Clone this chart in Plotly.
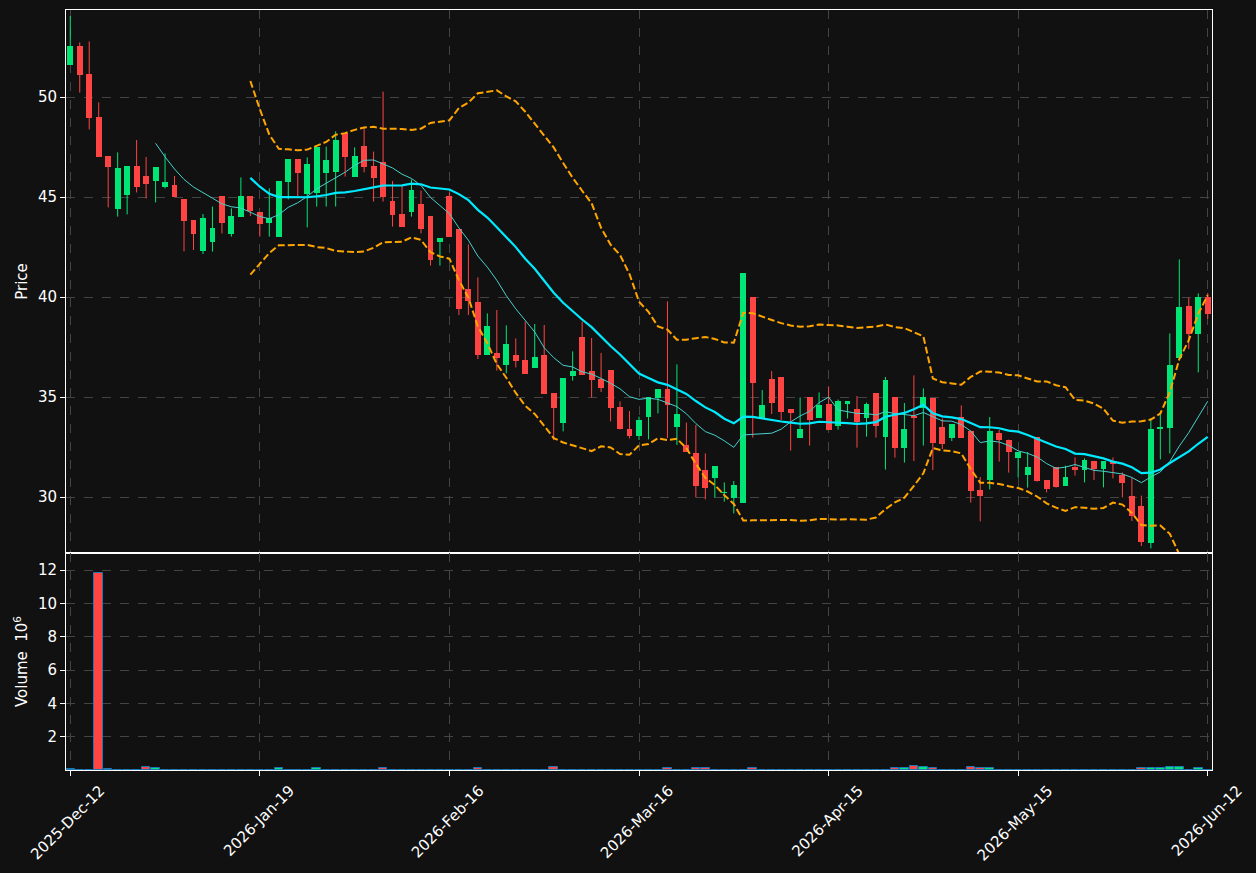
import plotly.graph_objects as go
import pandas as pd

# ---- data ----
tick_positions = [0, 20, 40, 60, 80, 100, 120]
tick_labels = ["2025-Dec-12", "2026-Jan-19", "2026-Feb-16", "2026-Mar-16",
               "2026-Apr-15", "2026-May-15", "2026-Jun-12"]

opens = [51.6, 52.55, 51.15, 49.0, 47.05, 44.42, 45.12, 46.55, 46.05, 45.82,
         45.52, 45.6, 44.9, 43.85, 42.32, 42.75, 45.05, 43.15, 44.02, 45.05,
         44.25, 43.72, 43.02, 45.77, 46.88, 45.13, 45.22, 46.22, 46.27, 48.2,
         46.02, 47.55, 46.55, 46.73, 44.8, 44.15, 44.27, 44.65, 44.05, 42.77,
         45.05, 43.4, 40.4, 39.77, 37.1, 37.2, 36.6, 37.1, 36.85, 36.47,
         37.1, 35.2, 33.72, 36.07, 38.0, 36.3, 35.9, 36.35, 34.5, 33.4,
         33.05, 34.02, 34.97, 35.4, 33.52, 32.6, 32.22, 31.35, 30.95, 30.2,
         29.95, 29.72, 40.0, 33.93, 35.9, 36.0, 34.4, 32.97, 35.0, 33.97,
         34.65, 33.57, 34.65, 34.4, 33.97, 35.2, 33.02, 35.0, 32.47, 34.02,
         34.43, 34.93, 33.48, 32.97, 33.98, 33.32, 30.35, 30.85, 33.22, 32.87,
         31.97, 31.1, 32.98, 30.85, 31.48, 30.57, 31.48, 31.35, 31.8, 31.4,
         31.72, 31.1, 30.05, 29.55, 27.72, 33.42, 33.47, 36.97, 39.55, 38.17,
         39.98]
highs = [54.05, 52.73, 52.78, 49.73, 47.05, 47.23, 46.55, 47.85, 47.0, 46.5,
         47.18, 46.05, 44.9, 43.85, 44.15, 44.52, 45.05, 44.43, 45.98, 45.05,
         44.25, 45.43, 45.8, 46.88, 46.88, 46.98, 47.5, 47.52, 48.28, 48.2,
         47.48, 48.47, 47.27, 50.27, 45.8, 45.55, 45.88, 45.32, 44.05, 42.93,
         45.23, 43.4, 42.63, 40.98, 39.18, 39.35, 38.58, 37.93, 38.77, 38.65,
         38.6, 35.2, 35.95, 37.28, 38.77, 37.95, 37.2, 36.35, 34.78, 34.3,
         34.02, 35.0, 35.4, 39.78, 36.63, 33.72, 33.6, 32.18, 31.55, 30.73,
         30.8, 41.2, 40.0, 35.35, 36.3, 36.0, 34.4, 34.98, 35.0, 35.23,
         35.53, 34.87, 34.8, 35.05, 34.72, 35.2, 36.0, 35.0, 34.7, 36.08,
         35.43, 34.93, 33.93, 33.63, 34.58, 33.32, 31.0, 34.0, 33.35, 32.87,
         32.25, 32.25, 32.98, 30.85, 31.48, 31.57, 31.98, 31.93, 31.8, 31.8,
         31.98, 31.23, 30.97, 30.07, 33.93, 34.23, 38.18, 41.88, 39.97, 40.18,
         40.2]
lows = [51.6, 50.22, 48.38, 47.0, 44.48, 44.02, 44.13, 45.23, 44.93, 44.73,
        45.43, 45.02, 42.28, 42.35, 42.15, 42.27, 43.18, 43.02, 44.02, 44.05,
        43.02, 43.02, 43.02, 44.88, 45.05, 43.48, 44.52, 44.52, 44.52, 46.02,
        46.02, 46.23, 44.77, 44.77, 43.52, 43.52, 44.02, 43.18, 41.57, 41.57,
        43.02, 39.1, 39.1, 36.9, 37.1, 36.32, 36.18, 36.48, 36.17, 36.47,
        35.17, 32.85, 33.28, 35.82, 36.1, 34.98, 35.25, 33.78, 33.38, 32.93,
        32.85, 32.88, 34.18, 32.95, 32.6, 32.27, 29.98, 29.88, 29.98, 29.77,
        29.18, 29.72, 32.97, 33.93, 34.15, 33.85, 32.32, 32.97, 32.57, 33.97,
        33.35, 33.37, 33.93, 32.47, 33.02, 32.97, 31.37, 31.97, 31.72, 31.8,
        32.57, 31.35, 32.4, 32.8, 32.97, 29.72, 28.78, 30.38, 31.77, 31.22,
        30.97, 30.47, 30.77, 30.23, 30.47, 30.57, 31.07, 30.73, 30.85, 30.48,
        30.93, 29.98, 28.8, 27.55, 27.43, 31.88, 32.18, 36.97, 37.4, 36.23,
        38.9]
closes = [52.55, 51.1, 48.97, 47.02, 46.52, 46.45, 46.55, 45.52, 45.67, 46.5,
          45.75, 45.02, 43.82, 43.17, 43.95, 43.47, 43.72, 44.05, 45.05, 44.3,
          43.67, 43.97, 45.8, 46.88, 46.22, 46.65, 47.5, 46.85, 47.85, 47.02,
          47.05, 46.52, 45.97, 45.02, 44.1, 43.52, 45.35, 43.4, 41.85, 42.93,
          43.02, 39.4, 39.8, 37.1, 38.55, 36.97, 37.65, 36.82, 36.17, 37.0,
          35.17, 34.45, 35.95, 36.3, 36.1, 35.85, 35.45, 34.45, 33.38, 33.05,
          33.85, 35.0, 35.4, 34.62, 34.15, 32.27, 30.55, 30.45, 31.55, 30.25,
          30.6, 41.2, 35.72, 34.6, 34.72, 34.27, 34.22, 33.4, 33.85, 34.6,
          33.35, 34.8, 34.8, 33.77, 34.65, 33.57, 35.85, 32.47, 33.4, 33.97,
          34.98, 32.72, 32.67, 33.63, 32.97, 30.32, 30.07, 33.3, 32.85, 32.27,
          32.25, 31.5, 30.82, 30.38, 30.52, 31.0, 31.35, 31.85, 31.4, 31.8,
          31.67, 30.72, 29.07, 27.77, 33.4, 33.5, 36.6, 39.5, 38.17, 39.98,
          39.17]
# volume in shares (bars too small to see are read as 0)
volumes = [80000, 0, 0, 11820000, 80000, 0, 0, 0, 160000, 100000,
           0, 0, 0, 0, 0, 0, 0, 0, 0, 0,
           0, 0, 100000, 0, 0, 0, 100000, 0, 0, 0,
           0, 0, 0, 100000, 0, 0, 0, 0, 0, 0,
           0, 0, 0, 100000, 0, 0, 0, 0, 0, 0,
           0, 160000, 0, 0, 0, 0, 0, 0, 0, 0,
           0, 0, 0, 100000, 0, 0, 100000, 100000, 0, 0,
           0, 0, 100000, 0, 0, 0, 0, 0, 0, 0,
           0, 0, 0, 0, 0, 0, 0, 100000, 100000, 250000,
           160000, 100000, 0, 0, 0, 160000, 100000, 100000, 0, 0,
           0, 0, 0, 0, 0, 0, 0, 0, 0, 0,
           0, 0, 0, 100000, 100000, 100000, 160000, 160000, 0, 100000,
           0]

# ---- styling ----
BG = "#111111"
UP = "#00e676"
DOWN = "#ff4444"
GRID = "#444444"
WHITE = "#ffffff"
FONT = "DejaVu Sans"
FS = 15

n = len(closes)
idx = list(range(n))
close_s = pd.Series(closes)
ma20 = close_s.rolling(20).mean()
ma10 = close_s.rolling(10).mean()
sd20 = close_s.rolling(20).std(ddof=0)
bb_up = ma20 + 2 * sd20
bb_dn = ma20 - 2 * sd20

fig = go.Figure()

# wicks
for color, is_up in ((UP, True), (DOWN, False)):
    wx, wy = [], []
    for i in idx:
        if (closes[i] >= opens[i]) == is_up:
            wx += [i, i, None]
            wy += [lows[i], highs[i], None]
    fig.add_trace(go.Scatter(x=wx, y=wy, mode="lines", line=dict(color=color, width=1),
                             hoverinfo="skip", showlegend=False, xaxis="x", yaxis="y"))

# bodies
for color, is_up in ((UP, True), (DOWN, False)):
    bx, bb, bh = [], [], []
    for i in idx:
        if (closes[i] >= opens[i]) == is_up:
            bx.append(i)
            bb.append(min(opens[i], closes[i]))
            bh.append(max(abs(closes[i] - opens[i]), 0.05))
    fig.add_trace(go.Bar(x=bx, y=bh, base=bb, width=0.62, marker=dict(color=color, line=dict(width=0)),
                         showlegend=False, xaxis="x", yaxis="y"))

# indicators
fig.add_trace(go.Scatter(x=idx, y=bb_up, mode="lines", line=dict(color="#ffa500", width=2, dash="7px,3px"),
                         showlegend=False, xaxis="x", yaxis="y"))
fig.add_trace(go.Scatter(x=idx, y=bb_dn, mode="lines", line=dict(color="#ffa500", width=2, dash="7px,3px"),
                         showlegend=False, xaxis="x", yaxis="y"))
fig.add_trace(go.Scatter(x=idx, y=ma10, mode="lines", line=dict(color="#48d1cc", width=1),
                         showlegend=False, xaxis="x", yaxis="y"))
fig.add_trace(go.Scatter(x=idx, y=ma20, mode="lines", line=dict(color="#00eaff", width=2.2),
                         showlegend=False, xaxis="x", yaxis="y"))

# volume
vol_m = [v / 1e6 for v in volumes]
vcolors = [UP if closes[i] >= opens[i] else DOWN for i in idx]
fig.add_trace(go.Bar(x=idx, y=vol_m, width=0.9,
                     marker=dict(color=vcolors, line=dict(color="#1f77b4", width=1)),
                     showlegend=False, xaxis="x2", yaxis="y2"))

xr = [-0.45, 120.45]
axis_common = dict(showline=True, linecolor=WHITE, linewidth=1, mirror=True, zeroline=False,
                   showgrid=True, gridcolor=GRID, griddash="dash", gridwidth=1, automargin=False)
split = 217 / 760

fig.update_layout(
    width=1256, height=873, autosize=False,
    paper_bgcolor=BG, plot_bgcolor=BG,
    margin=dict(l=66, r=44, t=10, b=103),
    barmode="overlay", bargap=0,
    font=dict(family=FONT, color=WHITE, size=FS),
    xaxis=dict(domain=[0, 1], anchor="y", range=xr, tickvals=tick_positions,
               showticklabels=False, ticks="", **axis_common),
    yaxis=dict(domain=[split, 1], anchor="x", range=[27.2, 54.35], tickvals=[30, 35, 40, 45, 50],
               ticks="outside", ticklen=5, tickcolor=WHITE,
               title=dict(text="Price", font=dict(size=FS), standoff=6), **axis_common),
    xaxis2=dict(domain=[0, 1], anchor="y2", range=xr, matches="x", tickvals=tick_positions,
                ticktext=tick_labels, tickangle=-45, ticks="outside", ticklen=5, tickcolor=WHITE,
                ticklabelshift=30, **axis_common),
    yaxis2=dict(domain=[0, split], anchor="x2", range=[0, 13.03], tickvals=[2, 4, 6, 8, 10, 12],
                ticks="outside", ticklen=5, tickcolor=WHITE,
                title=dict(text="Volume  10<sup>6</sup>", font=dict(size=FS), standoff=6), **axis_common),
)

fig.write_html("out.html", config={"displayModeBar": False})
